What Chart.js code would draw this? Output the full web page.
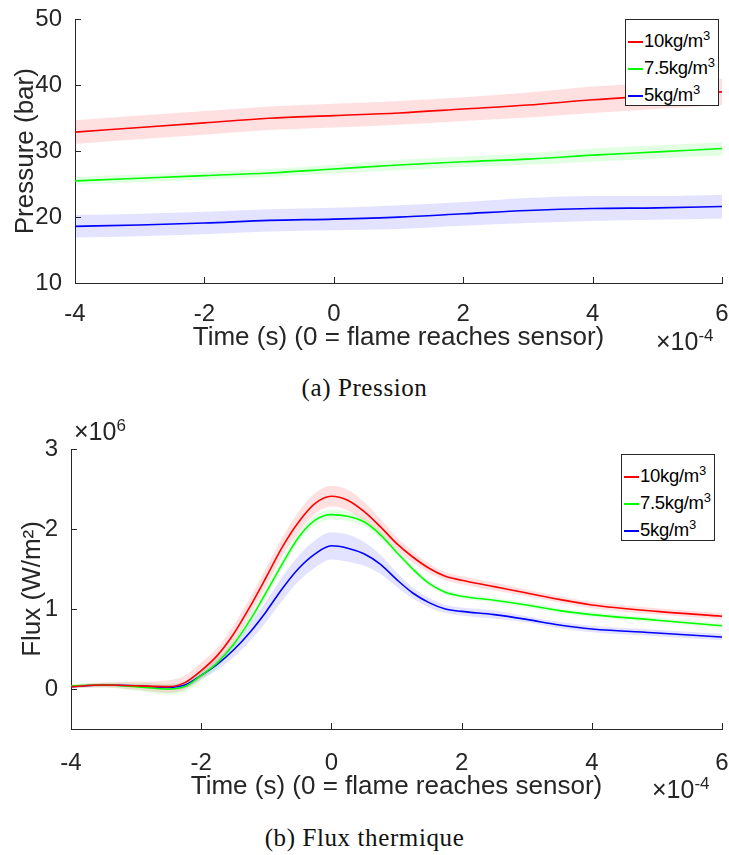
<!DOCTYPE html>
<html>
<head>
<meta charset="utf-8">
<script src="https://cdn.jsdelivr.net/npm/chart.js@4.4.1/dist/chart.umd.min.js"></script>
<style>
  body { margin: 0; background: #fff; width: 729px; height: 855px; position: relative; overflow: hidden; }
  .box { position: absolute; left: 0; }
  .txt { position: absolute; font-family: "Liberation Sans", Arial, sans-serif; color: #262626; white-space: nowrap; font-size: 25px; }
  .txt sup { font-size: 17px; }
  .cap { position: absolute; width: 729px; text-align: center; font-family: "Liberation Serif", "DejaVu Serif", serif; font-size: 25px; letter-spacing: 0.6px; color: #111; }
  .legend { position: absolute; border: 1px solid #262626; background: #fff; font-family: "Liberation Sans", Arial, sans-serif; font-size: 18.5px; color: #000; padding: 2px 3px 2px 2px; }
  .legend div { height: 27px; line-height: 27px; white-space: nowrap; letter-spacing: -0.3px; }
  .legend span.ln { display: inline-block; width: 15px; height: 2px; vertical-align: middle; margin-right: 1px; }
  .legend sup { font-size: 13px; }
</style>
</head>
<body>

<div class="box" style="top:0"><canvas id="pres" width="729" height="360"></canvas></div>
<div class="box" style="top:420px"><canvas id="flux" width="729" height="390"></canvas></div>

<div class="legend" id="leg1" style="left:625px; top:19px;"></div>
<div class="legend" id="leg2" style="left:621px; top:454px;"></div>

<div class="txt" style="left:656px; top:326px;">&times;10<sup>-4</sup></div>
<div class="txt" style="left:652px; top:774px;">&times;10<sup>-4</sup></div>
<div class="txt" style="left:74px; top:416px;">&times;10<sup>6</sup></div>

<div class="cap" style="top:374px">(a) Pression</div>
<div class="cap" style="top:824px">(b) Flux thermique</div>

<script>
// series names / colours
var seriesNames = ['10kg/m<sup>3</sup>', '7.5kg/m<sup>3</sup>', '5kg/m<sup>3</sup>'];
var lineColors = ['#ff0000', '#00ff00', '#0000ff'];
var bandColors = ['rgba(255,0,0,0.12)', 'rgba(0,255,0,0.11)', 'rgba(0,0,255,0.11)'];

// --- (a) pressure, time in 1e-4 s
var timeP = [-4, -3, -2, -1, 0, 1, 2, 3, 4, 5, 6];
var pres10 = [32.9, 33.6, 34.3, 35.0, 35.4, 35.8, 36.4, 37.0, 37.8, 38.4, 39.0];
var pres10Sd = [1.8, 1.8, 1.8, 1.8, 1.8, 1.8, 1.8, 1.9, 2.0, 2.0, 2.0];
var pres75 = [25.5, 25.9, 26.3, 26.7, 27.3, 27.9, 28.4, 28.8, 29.4, 29.9, 30.4];
var pres75Sd = [0.6, 0.6, 0.6, 0.6, 0.7, 0.8, 0.8, 0.9, 1.0, 1.0, 1.0];
var pres5 = [18.6, 18.8, 19.1, 19.5, 19.7, 20.0, 20.5, 21.0, 21.3, 21.4, 21.6];
var pres5Sd = [1.7, 1.7, 1.7, 1.7, 1.7, 1.8, 1.8, 1.9, 1.9, 1.8, 1.8];
var presTicks = [10, 20, 30, 40, 50];

// --- (b) heat flux (x1e6 W/m2), time in 1e-4 s
var timeF = [-4, -3.5, -3, -2.5, -2.25, -2, -1.75, -1.5, -1.25, -1, -0.75, -0.5, -0.25, 0, 0.25, 0.5, 0.75, 1, 1.25, 1.5, 1.75, 2, 2.5, 3, 3.5, 4, 5, 6];
var flux10 = [0.03, 0.05, 0.04, 0.03, 0.08, 0.23, 0.42, 0.69, 1.03, 1.40, 1.78, 2.09, 2.32, 2.41, 2.36, 2.22, 2.03, 1.82, 1.65, 1.51, 1.41, 1.36, 1.28, 1.20, 1.12, 1.05, 0.97, 0.91];
var flux10Sd = [0.02, 0.03, 0.05, 0.08, 0.09, 0.1, 0.1, 0.11, 0.11, 0.12, 0.12, 0.13, 0.13, 0.13, 0.13, 0.12, 0.1, 0.08, 0.07, 0.06, 0.05, 0.05, 0.05, 0.04, 0.04, 0.04, 0.04, 0.04];
var flux75 = [0.04, 0.05, 0.03, 0.0, 0.03, 0.17, 0.33, 0.56, 0.86, 1.21, 1.57, 1.90, 2.11, 2.18, 2.16, 2.09, 1.93, 1.71, 1.50, 1.32, 1.21, 1.16, 1.11, 1.05, 0.98, 0.93, 0.86, 0.79];
var flux75Sd = [0.02, 0.03, 0.05, 0.07, 0.07, 0.07, 0.06, 0.06, 0.06, 0.06, 0.06, 0.06, 0.06, 0.06, 0.06, 0.05, 0.05, 0.04, 0.04, 0.03, 0.03, 0.03, 0.03, 0.03, 0.03, 0.03, 0.03, 0.03];
var flux5 = [0.03, 0.05, 0.04, 0.02, 0.05, 0.17, 0.31, 0.49, 0.71, 0.97, 1.26, 1.51, 1.69, 1.79, 1.76, 1.69, 1.56, 1.37, 1.20, 1.08, 1.00, 0.97, 0.93, 0.87, 0.80, 0.75, 0.70, 0.65];
var flux5Sd = [0.02, 0.02, 0.02, 0.03, 0.04, 0.05, 0.07, 0.09, 0.11, 0.13, 0.15, 0.16, 0.17, 0.17, 0.17, 0.15, 0.12, 0.09, 0.07, 0.06, 0.05, 0.05, 0.05, 0.04, 0.04, 0.04, 0.04, 0.04];
var fluxTicks = [0, 1, 2, 3];
var timeTicks = [-4, -2, 0, 2, 4, 6];

var axisColor = '#262626';

function pts(xs, ys, sd, sign) {
    return xs.map(function(x, i) { return { x: x, y: ys[i] + sign * (sd ? sd[i] : 0) }; });
}

function buildDatasets(xs, means, sds) {
    var sets = [];
    var common = { pointRadius: 0, cubicInterpolationMode: 'monotone' };
    // lines first so they sit on top
    for (var i = 0; i < means.length; i++) {
        sets.push(Object.assign({ data: pts(xs, means[i], null, 0), borderColor: lineColors[i], borderWidth: 1.6, fill: false }, common));
    }
    for (var i = 0; i < means.length; i++) {
        var idx = sets.length;
        sets.push(Object.assign({ data: pts(xs, means[i], sds[i], 1), borderWidth: 0, fill: idx + 1, backgroundColor: bandColors[i] }, common));
        sets.push(Object.assign({ data: pts(xs, means[i], sds[i], -1), borderWidth: 0, fill: false }, common));
    }
    return sets;
}

// inward tick marks like matlab
var innerTicks = {
    id: 'innerTicks',
    afterDraw: function(chart) {
        var ctx = chart.ctx, a = chart.chartArea;
        var xs = chart.scales.x, ys = chart.scales.y;
        ctx.save();
        ctx.strokeStyle = axisColor;
        ctx.lineWidth = 1;
        xs.ticks.forEach(function(t) {
            var px = Math.round(xs.getPixelForValue(t.value)) + 0.5;
            ctx.beginPath(); ctx.moveTo(px, a.bottom); ctx.lineTo(px, a.bottom - 6); ctx.stroke();
        });
        ys.ticks.forEach(function(t) {
            var py = Math.round(ys.getPixelForValue(t.value)) + 0.5;
            ctx.beginPath(); ctx.moveTo(a.left, py); ctx.lineTo(a.left + 6, py); ctx.stroke();
        });
        ctx.restore();
    }
};

function makeChart(id, xs, means, sds, opt) {
    return new Chart(document.getElementById(id), {
        type: 'line',
        data: { datasets: buildDatasets(xs, means, sds) },
        plugins: [innerTicks],
        options: {
            responsive: false,
            animation: false,
            devicePixelRatio: 1,
            layout: { padding: { top: opt.top, right: 7, left: 0, bottom: 0 } },
            plugins: { legend: { display: false }, tooltip: { enabled: false } },
            scales: {
                x: {
                    type: 'linear', min: -4, max: 6,
                    afterBuildTicks: function(s) { s.ticks = timeTicks.map(function(v) { return { value: v }; }); },
                    afterFit: function(s) { s.height = opt.xh; s.paddingLeft = 0; s.paddingRight = 0; },
                    grid: { display: false },
                    border: { display: true, color: axisColor, width: 1 },
                    ticks: { color: axisColor, padding: opt.xpad, maxRotation: 0, font: { family: 'Liberation Sans', size: 24 } },
                    title: { display: true, text: 'Time (s) (0 = flame reaches sensor)', color: axisColor, padding: { top: 0, bottom: opt.xtp }, font: { family: 'Liberation Sans', size: 26 } }
                },
                y: {
                    type: 'linear', min: opt.ymin, max: opt.ymax,
                    afterBuildTicks: function(s) { s.ticks = opt.yticks.map(function(v) { return { value: v }; }); },
                    afterFit: function(s) { s.width = opt.yw; },
                    grid: { display: false },
                    border: { display: true, color: axisColor, width: 1 },
                    ticks: { color: axisColor, padding: 5, font: { family: 'Liberation Sans', size: 24 } },
                    title: { display: true, text: opt.ytitle, color: axisColor, padding: { top: opt.ytp, bottom: 0 }, font: { family: 'Liberation Sans', size: 26 } }
                }
            }
        }
    });
}

makeChart('pres', timeP, [pres10, pres75, pres5], [pres10Sd, pres75Sd, pres5Sd],
    { top: 14, xh: 77, xpad: 9, xtp: 7, yw: 75, ytp: 10, ymin: 10, ymax: 50, yticks: presTicks, ytitle: 'Pressure (bar)' });

makeChart('flux', timeF, [flux10, flux75, flux5], [flux10Sd, flux75Sd, flux5Sd],
    { top: 29, xh: 81, xpad: 12, xtp: 8, yw: 71, ytp: 17, ymin: -0.5, ymax: 3, yticks: fluxTicks, ytitle: 'Flux (W/m\u00B2)' });

// legends
['leg1', 'leg2'].forEach(function(id) {
    var html = '';
    for (var i = 0; i < seriesNames.length; i++) {
        html += '<div><span class="ln" style="background:' + lineColors[i] + '"></span>' + seriesNames[i] + '</div>';
    }
    document.getElementById(id).innerHTML = html;
});
</script>
</body>
</html>
